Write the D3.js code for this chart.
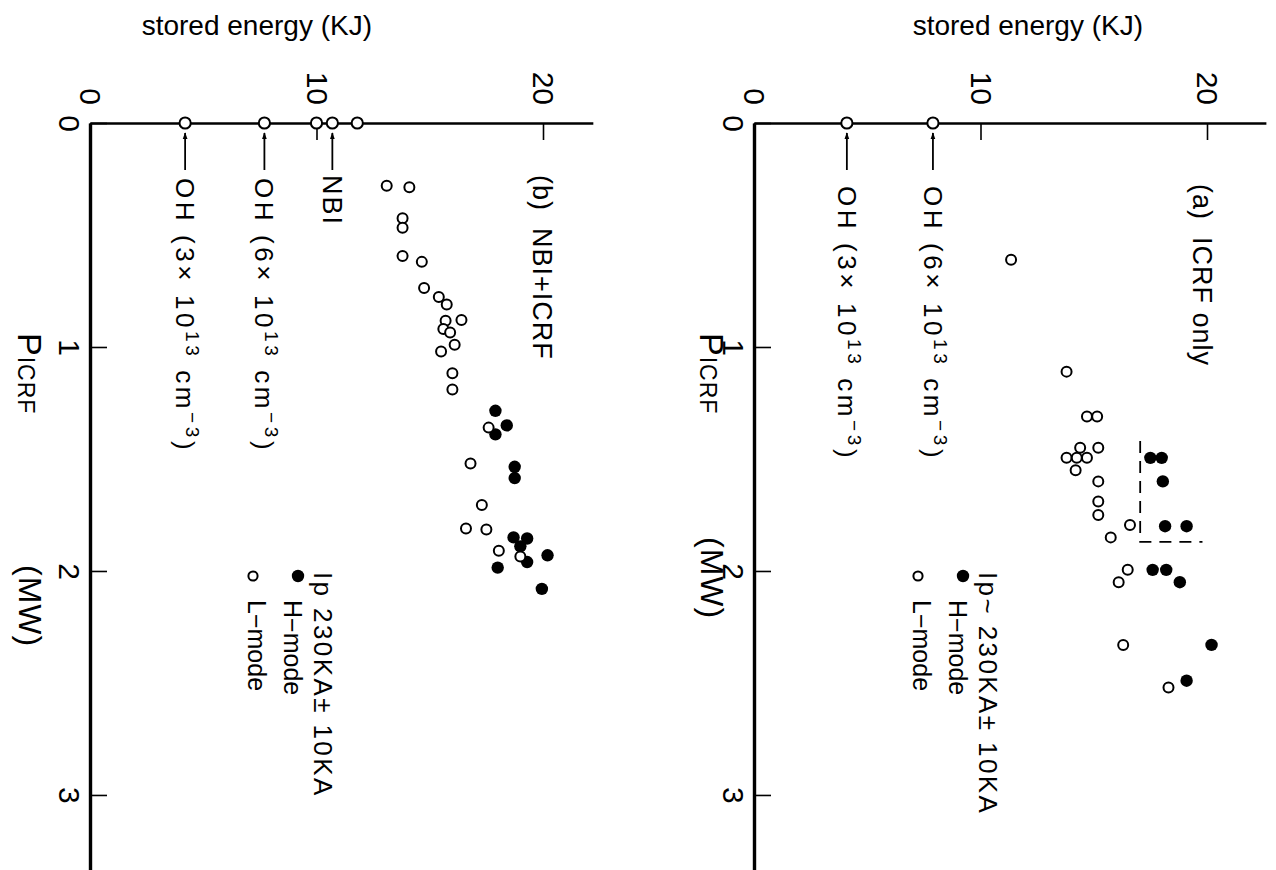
<!DOCTYPE html>
<html>
<head>
<meta charset="utf-8">
<script src="https://cdn.jsdelivr.net/npm/d3@7"></script>
<style>
  body { margin: 0; background: #fff; }
  svg { display: block; font-family: "Liberation Sans", Arial, sans-serif; }
</style>
</head>
<body>
<div id="chart"></div>
<script>
// stored energy (kJ) against P_ICRF (MW), figure printed turned a quarter turn
const energyTicks = [0, 10, 20];
const powerTicks = [0, 1, 2, 3];

// (a) ICRF only : [stored energy kJ, P_ICRF MW]
const icrfLmode = [
	[11.35, 0.61], [13.8, 1.11], [14.7, 1.31], [15.15, 1.31], [14.4, 1.45], [15.2, 1.45],
	[13.8, 1.495], [14.25, 1.495], [14.7, 1.495], [14.2, 1.55], [15.2, 1.60], [15.2, 1.69],
	[15.2, 1.75], [16.6, 1.795], [15.75, 1.85], [16.5, 1.995], [16.1, 2.05], [16.3, 2.33], [18.3, 2.52]
];
const icrfHmode = [
	[17.5, 1.495], [18.0, 1.495], [18.05, 1.60], [18.15, 1.80], [19.1, 1.80],
	[17.6, 1.995], [18.2, 1.995], [18.8, 2.05], [20.2, 2.33], [19.1, 2.49]
];
const icrfOhEnergy = [4.1, 7.9];
const icrfBoxEnergy = [17.05, 19.8];
const icrfBoxPower = [1.42, 1.87];

// (b) NBI+ICRF
const nbiLmode = [
	[13.1, 0.28], [14.1, 0.287], [13.8, 0.425], [13.8, 0.468], [13.8, 0.594], [14.65, 0.62],
	[14.75, 0.737], [15.4, 0.777], [15.75, 0.81], [15.7, 0.883], [16.4, 0.88], [15.6, 0.92],
	[15.9, 0.935], [16.1, 0.99], [15.5, 1.02], [16.0, 1.117], [16.0, 1.19], [17.6, 1.36],
	[16.8, 1.52], [17.3, 1.705], [16.6, 1.81], [17.5, 1.815], [18.05, 1.91], [19.0, 1.935]
];
const nbiHmode = [
	[17.9, 1.285], [18.4, 1.35], [17.9, 1.39], [18.75, 1.535], [18.75, 1.585],
	[18.7, 1.85], [19.3, 1.855], [19.0, 1.89], [19.3, 1.96], [18.0, 1.985], [20.2, 1.93], [19.95, 2.08]
];
const nbiOhEnergy = [4.2, 7.7];
const nbiOnlyEnergy = [10.0, 10.7, 11.8];

const ohDensity = ["3", "6"];

const width = 1276;
const height = 870;
const pxPerKJ = 22.65;

const svg = d3.select("#chart")
	.append("svg")
		.attr("width", width)
		.attr("height", height);

svg.append("defs").append("marker")
	.attr("id", "arrow")
	.attr("viewBox", "0 0 10 10")
	.attr("refX", 9).attr("refY", 5)
	.attr("markerWidth", 7).attr("markerHeight", 7)
	.attr("markerUnits", "userSpaceOnUse")
	.attr("orient", "auto")
	.append("path")
		.attr("d", "M0,1.5L10,5L0,8.5Z")
		.attr("fill", "#000");

const y = d3.scaleLinear().domain([0, 3.335]).range([123, 870]);

// rotated text helper (reads top to bottom)
function vtext(g, x, yy, size, anchor) {
	return g.append("text")
		.attr("transform", `translate(${x},${yy}) rotate(90)`)
		.attr("text-anchor", anchor || "start")
		.attr("dy", "0.35em")
		.attr("font-size", size)
		.attr("fill", "#000");
}

function drawPanel(p) {
	const g = svg.append("g");
	const x = d3.scaleLinear().domain([0, p.maxE]).range([p.x0, p.x0 + p.maxE * pxPerKJ]);

	// title
	g.append("text")
		.attr("x", p.titleX)
		.attr("y", 35)
		.attr("text-anchor", "end")
		.attr("font-size", 28)
		.text("stored energy (KJ)");

	// top axis
	const top = g.append("g")
		.attr("transform", `translate(0,${y(0)})`)
		.call(d3.axisTop(x).tickValues(energyTicks).tickSizeInner(-17).tickSizeOuter(0).tickFormat(d3.format("d")));
	top.select(".domain").attr("stroke-width", 2.6);
	top.selectAll(".tick line").attr("stroke-width", 1.6);
	top.selectAll(".tick text")
		.attr("x", 0).attr("y", 0).attr("dy", "0.35em")
		.attr("transform", "translate(0,-18) rotate(90)")
		.attr("text-anchor", "end")
		.attr("font-size", 30)
		.attr("font-family", "Liberation Sans, Arial, sans-serif");

	// left axis
	const left = g.append("g")
		.attr("transform", `translate(${x(0)},0)`)
		.call(d3.axisLeft(y).tickValues(powerTicks).tickSizeInner(-17).tickSizeOuter(0).tickFormat(d3.format("d")));
	left.select(".domain").attr("stroke-width", 3.4);
	left.selectAll(".tick line").attr("stroke-width", 1.6);
	left.selectAll(".tick text")
		.attr("x", 0).attr("dy", "0.35em")
		.attr("transform", "translate(-21,0) rotate(90)")
		.attr("text-anchor", "middle")
		.attr("font-size", 30)
		.attr("font-family", "Liberation Sans, Arial, sans-serif");

	// P_ICRF label
	const pl = vtext(g, p.labelX, 333, 34).attr("letter-spacing", 1);
	pl.append("tspan").text("P");
	pl.append("tspan").attr("font-size", 23).text("ICRF");
	vtext(g, p.labelX, p.mwY, 32).attr("letter-spacing", 1).text("(MW)");

	// panel label
	vtext(g, p.tagX, p.tagY, 27).attr("letter-spacing", 1).text(p.tag);
	vtext(g, p.tagX, p.tagY + 53, 27).attr("letter-spacing", 1).text(p.mode);

	// OH reference points with arrows and labels
	p.oh.forEach((e, i) => {
		g.append("line")
			.attr("x1", x(e)).attr("x2", x(e))
			.attr("y1", 170).attr("y2", 133)
			.attr("stroke", "#000").attr("stroke-width", 1.8)
			.attr("marker-end", "url(#arrow)");
		const t = vtext(g, x(e), p.ohY, 26).attr("letter-spacing", 3.6);
		t.append("tspan").text(`OH (${ohDensity[i]}\u00d7 10`);
		t.append("tspan").attr("font-size", 19).attr("dy", -10).text("13");
		t.append("tspan").attr("dy", 10).text(" cm");
		t.append("tspan").attr("font-size", 19).attr("dy", -10).text("\u22123");
		t.append("tspan").attr("dy", 10).text(")");
	});
	if (p.nbi) {
		const e = p.nbi[1];
		g.append("line")
			.attr("x1", x(e)).attr("x2", x(e))
			.attr("y1", 170).attr("y2", 133)
			.attr("stroke", "#000").attr("stroke-width", 1.8)
			.attr("marker-end", "url(#arrow)");
		vtext(g, x(e), 175, 27).attr("letter-spacing", 2).text("NBI");
	}
	const axisPts = p.oh.concat(p.nbi || []);
	g.selectAll("circle.ax")
		.data(axisPts)
		.join("circle")
			.attr("class", "ax")
			.attr("cx", d => x(d))
			.attr("cy", y(0))
			.attr("r", 5.6)
			.attr("fill", "#fff")
			.attr("stroke", "#000")
			.attr("stroke-width", 2);

	// dashed box
	if (p.box) {
		g.append("path")
			.attr("d", `M${x(p.box.e[0])},${y(p.box.p[0])}V${y(p.box.p[1])}H${x(p.box.e[1])}`)
			.attr("fill", "none")
			.attr("stroke", "#000")
			.attr("stroke-width", 1.8)
			.attr("stroke-dasharray", "12,8");
	}

	// H-mode then L-mode
	g.selectAll("circle.h")
		.data(p.hmode)
		.join("circle")
			.attr("class", "h")
			.attr("cx", d => x(d[0]))
			.attr("cy", d => y(d[1]))
			.attr("r", 6.2)
			.attr("fill", "#000");
	g.selectAll("circle.l")
		.data(p.lmode)
		.join("circle")
			.attr("class", "l")
			.attr("cx", d => x(d[0]))
			.attr("cy", d => y(d[1]))
			.attr("r", 5)
			.attr("fill", "#fff")
			.attr("stroke", "#000")
			.attr("stroke-width", 2);

	// legend
	vtext(g, p.legX, 572, 26).attr("letter-spacing", 2.4).text(p.ipText);
	g.append("circle").attr("cx", p.legX - 25).attr("cy", 576).attr("r", 6.2).attr("fill", "#000");
	vtext(g, p.legX - 30, 600, 25).text("H\u2212mode");
	g.append("circle").attr("cx", p.legX - 70).attr("cy", 576).attr("r", 4.6)
		.attr("fill", "#fff").attr("stroke", "#000").attr("stroke-width", 2);
	vtext(g, p.legX - 66, 600, 25).text("L\u2212mode");
}

drawPanel({
	x0: 754, maxE: 22.6, titleX: 1143, labelX: 712, mwY: 537,
	tag: "(a)", mode: "ICRF only", tagX: 1202, tagY: 184,
	oh: icrfOhEnergy, ohY: 186, box: {e: icrfBoxEnergy, p: icrfBoxPower},
	hmode: icrfHmode, lmode: icrfLmode,
	legX: 988, ipText: "Ip~ 230KA\u00b1 10KA"
});

drawPanel({
	x0: 90, maxE: 22.2, titleX: 372, labelX: 30, mwY: 565,
	tag: "(b)", mode: "NBI+ICRF", tagX: 542, tagY: 175,
	oh: nbiOhEnergy, ohY: 178, nbi: nbiOnlyEnergy,
	hmode: nbiHmode, lmode: nbiLmode,
	legX: 323, ipText: "Ip 230KA\u00b1 10KA"
});
</script>
</body>
</html>
